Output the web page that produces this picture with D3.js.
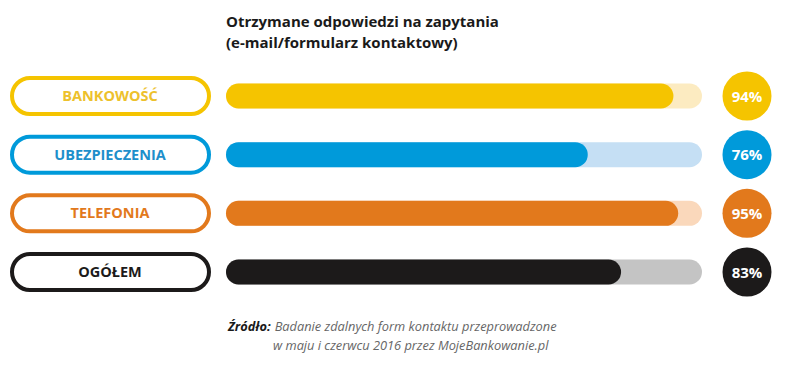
<!DOCTYPE html>
<html><head><meta charset="utf-8">
<script src="https://cdn.jsdelivr.net/npm/d3@7"></script>
<style>body{margin:0;background:#fff}svg{display:block}</style>
</head><body>
<svg id="c" width="788" height="369"></svg>
<script>
const categories = ["BANKOWOŚĆ", "UBEZPIECZENIA", "TELEFONIA", "OGÓŁEM"];
const values = [94, 76, 95, 83];
const mainColors = ["#F5C400", "#009ADA", "#E2791C", "#1C1A1A"];
const lightColors = ["#FCEBC1", "#C5DFF4", "#FAD8BB", "#C4C4C4"];
const labelColors = ["#EDC12C", "#1E8FCB", "#E2791C", "#1C1A1A"];
const titleLines = ["Otrzymane odpowiedzi na zapytania", "(e-mail/formularz kontaktowy)"];

const svg = d3.select("#c");
const font = "'Open Sans', sans-serif";

const x = d3.scaleLinear().domain([0, 100]).range([226, 702]);
const y = d3.scalePoint().domain(categories).range([96, 272]);
const barH = 25;

svg.selectAll("text.title").data(titleLines).join("text")
  .attr("x", 226).attr("y", (d, i) => 27 + i * 21)
  .attr("font-family", font).attr("font-weight", 700).attr("font-size", 15)
  .attr("fill", "#1a1a1a").text(d => d);

const rows = svg.selectAll("g.row").data(categories).join("g").attr("class", "row");

rows.append("rect")
  .attr("x", 12).attr("y", d => y(d) - 18).attr("width", 197).attr("height", 36)
  .attr("rx", 18).attr("fill", "#fff")
  .attr("stroke", (d, i) => mainColors[i]).attr("stroke-width", 4);

rows.append("text")
  .attr("x", 110).attr("y", d => y(d) + 5)
  .attr("text-anchor", "middle").attr("font-family", font).attr("font-weight", 700)
  .attr("font-size", 14.5).attr("fill", (d, i) => labelColors[i]).text(d => d);

rows.append("rect")
  .attr("x", x(0)).attr("y", d => y(d) - barH / 2).attr("width", x(100) - x(0)).attr("height", barH)
  .attr("rx", barH / 2).attr("fill", (d, i) => lightColors[i]);

rows.append("rect")
  .attr("x", x(0)).attr("y", d => y(d) - barH / 2)
  .attr("width", (d, i) => x(values[i]) - x(0)).attr("height", barH)
  .attr("rx", barH / 2).attr("fill", (d, i) => mainColors[i]);

rows.append("circle")
  .attr("cx", 747).attr("cy", d => y(d)).attr("r", 24.5)
  .attr("fill", (d, i) => mainColors[i]);

rows.append("text")
  .attr("x", 747).attr("y", d => y(d) + 5.5)
  .attr("text-anchor", "middle").attr("font-family", font).attr("font-weight", 700)
  .attr("font-size", 15).attr("fill", "#fff").text((d, i) => values[i] + "%");

const src = svg.append("text").attr("font-family", font).attr("font-style", "italic")
  .attr("font-size", 12.8).attr("fill", "#666");
src.append("tspan").attr("x", 228).attr("y", 331).attr("font-weight", 700).attr("fill", "#1a1a1a").text("Źródło:");
src.append("tspan").attr("dx", 4).text("Badanie zdalnych form kontaktu przeprowadzone");
src.append("tspan").attr("x", 273).attr("y", 350).text("w maju i czerwcu 2016 przez MojeBankowanie.pl");
</script>
</body></html>
